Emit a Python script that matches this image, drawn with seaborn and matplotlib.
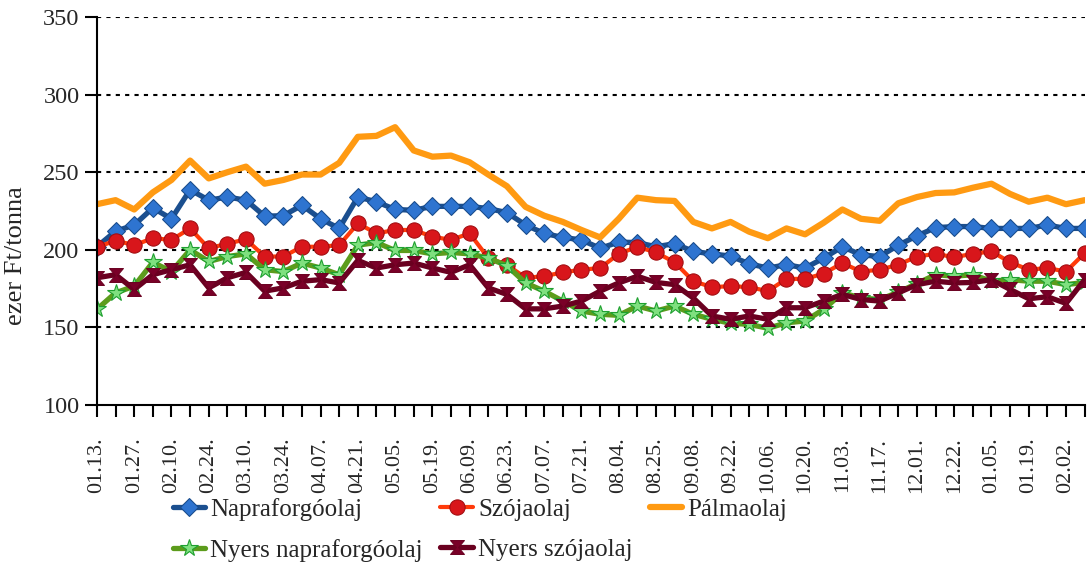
import numpy as np
import pandas as pd
import matplotlib.pyplot as plt
import seaborn as sns

# heti dátumok (csak minden második látszik a tengelyen)
dates = ['01.13.', '01.20.', '01.27.', '02.03.', '02.10.', '02.17.', '02.24.', '03.03.',
         '03.10.', '03.17.', '03.24.', '03.31.', '04.07.', '04.14.', '04.21.', '04.28.',
         '05.05.', '05.12.', '05.19.', '06.02.', '06.09.', '06.16.', '06.23.', '06.30.',
         '07.07.', '07.14.', '07.21.', '07.28.', '08.04.', '08.18.', '08.25.', '09.01.',
         '09.08.', '09.15.', '09.22.', '09.29.', '10.06.', '10.13.', '10.20.', '10.27.',
         '11.03.', '11.10.', '11.17.', '11.24.', '12.01.', '12.15.', '12.22.', '12.29.',
         '01.05.', '01.12.', '01.19.', '01.26.', '02.02.', '02.09.']

napraforgo = [202, 212, 216, 227, 220, 238.7, 232, 234, 232, 221.7, 222, 228.7, 220, 213.8,
              234, 231, 226, 225.5, 228, 228, 228, 226.6, 224, 216, 210.6, 208, 206.4, 201,
              205, 204.7, 202, 204, 199, 197.4, 196, 191, 188.3, 190.4, 188.3, 194.7, 202,
              196.8, 195.7, 203, 209, 214.3, 215, 215, 213.8, 213.8, 213.8, 216, 213.8, 213.8]
szoja = [201.7, 206, 203, 207.5, 206.4, 213.8, 201, 204, 206.8, 195.7, 195.7, 202, 202, 203,
         217, 210.6, 212.8, 212.8, 208.5, 206.4, 210.6, 194.7, 190.4, 182, 183, 185.5, 187.2,
         188.3, 197.4, 202, 198.3, 192, 179.8, 176, 176.6, 176, 173.4, 181.3, 181.3, 184.7,
         191.5, 186, 187.2, 190.4, 195.7, 197.4, 195.3, 197.4, 199, 192, 187.2, 188.3, 186, 197.9]
palma = [229.4, 232, 226, 237, 245, 257.5, 246, 250, 253.6, 242.6, 245, 248.5, 248.5, 256,
         272.8, 273.4, 279, 264, 260, 260.7, 256.4, 248.5, 241, 227.7, 222, 218, 212.8, 208,
         220, 233.6, 232, 231.5, 218, 213.8, 218, 211.7, 207.5, 213.8, 210, 217.5, 226, 220,
         218.7, 230, 234, 236.6, 237, 240, 242.6, 236, 231, 233.6, 229.4, 232]
nyers_napraforgo = [161.7, 172.3, 176.6, 192, 186, 200, 192.5, 195.7, 197.4, 187.2, 186, 191.5,
                    188.3, 184, 203, 204.7, 199.6, 199.6, 197.4, 198.3, 197.4, 194.7, 189.8,
                    178.7, 173.4, 167, 160.6, 158.5, 157.8, 163.8, 160.6, 163.8, 158.5, 155.3,
                    152.7, 152, 149.5, 153, 154.2, 161.7, 172.3, 169, 168, 172.7, 178.3, 184,
                    183, 184, 179.8, 180.8, 179.8, 179.8, 177.6, 179]
nyers_szoja = [182, 184, 174.5, 184, 187.2, 190.4, 175.5, 182, 185.5, 173.4, 175.5, 179.8,
               180.8, 178.7, 193.2, 188.3, 190.4, 191.5, 188.3, 185.5, 190.4, 175.5, 171.3, 162,
               162, 163.8, 167, 173.4, 178.7, 183, 179, 177.6, 169, 157.4, 155.3, 157.4, 155.3,
               162.7, 162.7, 167, 171.3, 168, 167, 172.3, 177.6, 179.8, 178.7, 179, 180.8, 174.5,
               168.5, 169.8, 165.5, 180.8]

sns.set_theme(style='white')
plt.rcParams['font.family'] = ['Liberation Serif', 'DejaVu Serif']

df = pd.DataFrame({'pos': np.arange(len(dates)), 'datum': dates,
                   'Napraforgóolaj': napraforgo, 'Szójaolaj': szoja, 'Pálmaolaj': palma,
                   'Nyers napraforgóolaj': nyers_napraforgo, 'Nyers szójaolaj': nyers_szoja})

# homokóra alakú jelölő a nyers szójaolajhoz
hourglass = [(-1, 1), (1, 1), (0.15, 0), (1, -1), (-1, -1), (-0.15, 0), (-1, 1)]

styles = {
    'Napraforgóolaj': dict(color='#1b4f8f', marker='D', markersize=9, markerfacecolor='#2e74d0',
                           markeredgecolor='#174a8a', linewidth=3.8),
    'Szójaolaj': dict(color='#ff3a0a', marker='o', markersize=11, markerfacecolor='#d8161b',
                      markeredgecolor='#a00d10', linewidth=3),
    'Pálmaolaj': dict(color='#ff9a12', marker=None, linewidth=4.5),
    'Nyers napraforgóolaj': dict(color='#5c9c1c', marker='*', markersize=13,
                                 markerfacecolor='#7fe07f', markeredgecolor='#1fa030',
                                 markeredgewidth=0.8, linewidth=3.8),
    'Nyers szójaolaj': dict(color='#6a0020', marker=hourglass, markersize=10,
                            markerfacecolor='#7a0028', markeredgecolor='#6a0020', linewidth=3.8),
}

fig = plt.figure(figsize=(10.89, 5.65), dpi=100)
ax = fig.add_axes([0.089, 0.283, 0.907, 0.687])

for name, st in styles.items():
    sns.lineplot(data=df, x='pos', y=name, ax=ax, label=name, **st)

ax.set_xlim(0, len(dates) - 1)
ax.set_ylim(100, 350)
ax.set_yticks([100, 150, 200, 250, 300, 350])
ax.set_xticks(df['pos'])
ax.set_xticklabels([d if i % 2 == 0 else '' for i, d in enumerate(dates)], rotation=90)
ax.tick_params(axis='both', direction='out', length=8.5, width=1.5, color='black',
               bottom=True, left=True)
ax.tick_params(axis='x', labelsize=16, pad=15)
ax.tick_params(axis='y', labelsize=17.5, pad=4)
ax.set_xlabel('')
ax.set_ylabel('ezer Ft/tonna', fontsize=19)
ax.yaxis.set_label_coords(-0.071, 0.385)

for y in [150, 200, 250, 300, 350]:
    ax.axhline(y, color='black', linestyle=(0, (2, 2.5)), linewidth=1.5, zorder=0)

sns.despine(ax=ax)
for side in ['left', 'bottom']:
    ax.spines[side].set_linewidth(1.5)
    ax.spines[side].set_color('black')

# sorrend a 3 oszlopos, soronként olvasott jelmagyarázathoz
handles, labels = ax.get_legend_handles_labels()
order = ['Napraforgóolaj', 'Nyers napraforgóolaj', 'Szójaolaj', 'Nyers szójaolaj', 'Pálmaolaj']
h = [handles[labels.index(o)] for o in order]
ax.legend(h, order, ncol=3, loc='upper left', bbox_to_anchor=(0.077, -0.24), frameon=False,
          fontsize=18, handlelength=1.3, handletextpad=0.2, columnspacing=0.7,
          labelspacing=0.7, borderaxespad=0, borderpad=0)

fig.savefig('out.png', dpi=100)
